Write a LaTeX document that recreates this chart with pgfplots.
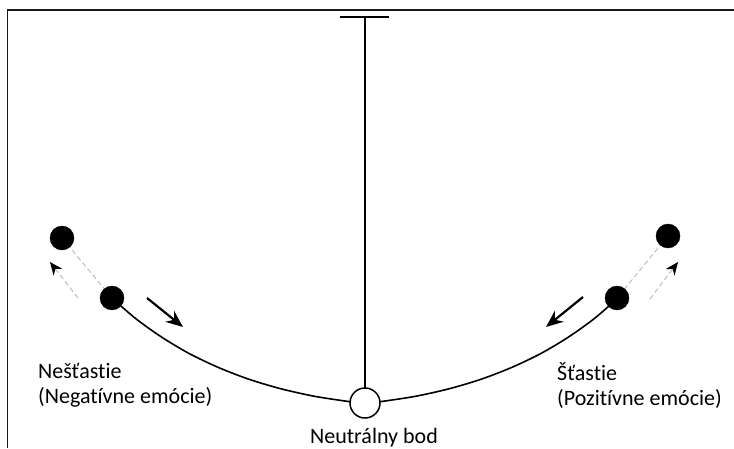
\documentclass[border=0pt]{standalone}
\usepackage{fontspec}
\setmainfont[Ligatures=NoCommon]{Carlito}
\usepackage{pgfplots}
\pgfplotsset{compat=1.18}
\usetikzlibrary{arrows.meta}
\begin{document}
\begin{tikzpicture}
\begin{axis}[width=734pt,height=448pt,scale only axis,
  xmin=0,xmax=734,ymin=0,ymax=448,hide axis,clip=false,
  anchor=south west, at={(0pt,0pt)}]
% frame (y measured from bottom: 448 - pixel row)
\addplot[black!90, line width=1.5pt] coordinates {(6.5,438) (734,438)};
\addplot[black!90, line width=1.5pt] coordinates {(7.3,438.7) (7.3,0)};
% pendulum support and rod
\addplot[black, line width=2pt] coordinates {(340,431) (389,431)};
\addplot[black, line width=1.5pt] coordinates {(365,431) (365,58)};
% arcs
\addplot[black, line width=1.6pt, smooth] coordinates {(112,150) (135.6,129.5) (161,111.3) (188.2,95) (217.3,81) (248.2,69) (281,59.2) (315.6,51.5) (352,46)};
\addplot[black, line width=1.6pt, smooth] coordinates {(618,150) (594.4,129.5) (569,111.3) (541.8,95) (512.7,81) (481.8,69) (449,59.2) (414.4,51.5) (378,46)};
% dashed connections
\addplot[gray!60, dash pattern=on 5pt off 3pt, line width=0.8pt] coordinates {(62,210) (112,150)};
\addplot[gray!60, dash pattern=on 5pt off 3pt, line width=0.8pt] coordinates {(668,212) (617,150)};
% dashed arrows
\addplot[gray!60, dash pattern=on 5pt off 3pt, line width=0.8pt, -{Stealth[length=13pt,width=11pt,color=black]}] coordinates {(78,150) (50,186)};
\addplot[gray!60, dash pattern=on 5pt off 3pt, line width=0.8pt, -{Stealth[length=13pt,width=11pt,color=black]}] coordinates {(650,149) (678,186)};
% solid arrows
\addplot[black, line width=2.2pt, -{Stealth[length=17pt,width=14pt]}] coordinates {(147,150) (183,121)};
\addplot[black, line width=2.2pt, -{Stealth[length=17pt,width=14pt]}] coordinates {(583,151) (546,121)};
% balls
\addplot[only marks, mark=*, mark size=12pt, black] coordinates {(62,210) (112,150) (668,212) (617,150)};
% neutral point
\addplot[only marks, mark=*, mark size=15pt, mark options={fill=white, draw=black, line width=1.5pt}] coordinates {(365,45)};
% labels
\node[anchor=base west, inner sep=0pt, font=\fontsize{22}{25}\selectfont] at (axis cs:38,70) {Nešťastie};
\node[anchor=base west, inner sep=0pt, font=\fontsize{22}{25}\selectfont] at (axis cs:38,45) {(Negatívne emócie)};
\node[anchor=base west, inner sep=0pt, font=\fontsize{22}{25}\selectfont] at (axis cs:557,68) {Šťastie};
\node[anchor=base west, inner sep=0pt, font=\fontsize{22}{25}\selectfont] at (axis cs:557,43) {(Pozitívne emócie)};
\node[anchor=base, inner sep=0pt, font=\fontsize{22}{25}\selectfont] at (axis cs:374,5) {Neutrálny bod};
\end{axis}
\pgfresetboundingbox
\useasboundingbox (0pt,0pt) rectangle (734pt,448pt);
\end{tikzpicture}
\end{document}
